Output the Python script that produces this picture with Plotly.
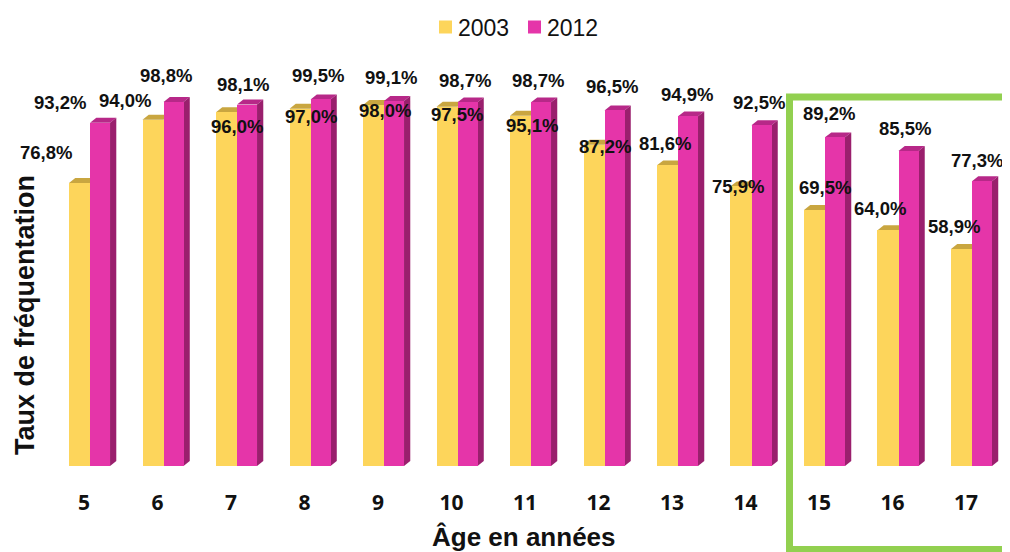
import plotly.graph_objects as go

ages = [5, 6, 7, 8, 9, 10, 11, 12, 13, 14, 15, 16, 17]
tick_labels = [str(a) for a in ages]
series_names = ["2003", "2012"]
v2003 = [76.8, 94.0, 96.0, 97.0, 98.0, 97.5, 95.1, 87.2, 81.6, 75.9, 69.5, 64.0, 58.9]
v2012 = [93.2, 98.8, 98.1, 99.5, 99.1, 98.7, 98.7, 96.5, 94.9, 92.5, 89.2, 85.5, 77.3]

# label pixel shifts (layout, not data)
lab03_dx = [-34, -28, 10, 11, 11, 10, 11, 11, -3, -3, 10, -8, -7]
lab03_dy = [31, 19, -14, -8, -6, -8, -10, -2, 22, 0, 22, 22, 23]
lab12_dx = [-40, -8, -4, -3, -3, -3, -3, -3, -1, -3, -6, -4, -5]
lab12_dy = [20, 27, 20, 24, 23, 22, 22, 24, 22, 23, 24, 23, 21]

YEL = "#FDD55B"
YEL_TOP = "#C9A640"
PINK = "#E535A9"
PINK_SIDE = "#9A1F6D"
PINK_TOP = "#B72888"
TXT = "#111111"

off03, w03 = -0.204, 0.286
off12, w12 = 0.082, 0.272
DX, DY = 0.085, 1.35

# plot area in page pixels: x 40..1010, y 60..466 (970 x 406)
def px(xp):
    return (xp - 40) / 970
def py(yp):
    return (466 - yp) / 406

fig = go.Figure()
fig.add_trace(go.Bar(x=ages, y=v2003, name=series_names[0], marker=dict(color=YEL, line=dict(width=0)),
                     offset=off03, width=w03))
fig.add_trace(go.Bar(x=ages, y=v2012, name=series_names[1], marker=dict(color=PINK, line=dict(width=0)),
                     offset=off12, width=w12))

shapes = []
def para(path, color):
    shapes.append(dict(type="path", path=path, xref="x", yref="y", fillcolor=color,
                       line=dict(width=0), layer="below"))

for a, y3, y12 in zip(ages, v2003, v2012):
    l3, r3 = a + off03, a + off03 + w03
    para(f"M {l3},{y3} L {r3},{y3} L {r3+DX},{y3+DY} L {l3+DX},{y3+DY} Z", YEL_TOP)
    l2, r2 = a + off12, a + off12 + w12
    para(f"M {l2},{y12} L {r2},{y12} L {r2+DX},{y12+DY} L {l2+DX},{y12+DY} Z", PINK_TOP)
    para(f"M {r2},0 L {r2+DX},{DY} L {r2+DX},{y12+DY} L {r2},{y12} Z", PINK_SIDE)

# green highlight box
shapes.append(dict(type="rect", xref="paper", yref="paper", x0=px(789.5), x1=1.02,
                   y0=py(549.5), y1=py(97),
                   line=dict(color="#92D050", width=7), fillcolor="rgba(0,0,0,0)", layer="above"))

annotations = []
def fmt(v):
    return "<b>" + f"{v:.1f}".replace(".", ",") + "%</b>"

LABFONT = dict(family="Liberation Sans, Arial", size=18.5, color=TXT)
for i, a in enumerate(ages):
    annotations.append(dict(x=a + off03 + w03 / 2, y=v2003[i], xref="x", yref="y", text=fmt(v2003[i]),
                            showarrow=False, xshift=lab03_dx[i], yshift=lab03_dy[i], font=LABFONT,
                            xanchor="center", yanchor="middle"))
    annotations.append(dict(x=a + off12 + w12 / 2, y=v2012[i], xref="x", yref="y", text=fmt(v2012[i]),
                            showarrow=False, xshift=lab12_dx[i], yshift=lab12_dy[i], font=LABFONT,
                            xanchor="center", yanchor="middle"))

# manual legend
for name, color, sx in [(series_names[0], YEL, 439), (series_names[1], PINK, 528)]:
    shapes.append(dict(type="rect", xref="paper", yref="paper", x0=px(sx), x1=px(sx + 13),
                       y0=py(33.5), y1=py(20.5), fillcolor=color, line=dict(width=0), layer="above"))
    annotations.append(dict(text=name, xref="paper", yref="paper", x=px(sx + 17), y=py(27.5),
                            xanchor="left", yanchor="middle", showarrow=False,
                            font=dict(family="Liberation Sans, Arial", size=23, color=TXT)))

# axis titles
annotations.append(dict(text="<b>Âge en années</b>", xref="paper", yref="paper",
                        x=px(524), y=py(537), xanchor="center", yanchor="middle",
                        showarrow=False, font=dict(family="Liberation Sans, Arial", size=26, color=TXT)))
annotations.append(dict(text="<b>Taux de fréquentation</b>", xref="paper", yref="paper",
                        x=px(25), y=py(315), xanchor="center", yanchor="middle",
                        textangle=-90, showarrow=False,
                        font=dict(family="Liberation Sans, Arial", size=27, color=TXT)))

# page body has an 8px margin: figure is 1002x544 placed at (8, 8)
fig.update_layout(
    width=1002, height=544,
    margin=dict(l=32, r=0, t=52, b=86, autoexpand=False),
    paper_bgcolor="white", plot_bgcolor="white",
    shapes=shapes, annotations=annotations,
    showlegend=False,
    xaxis=dict(range=[4.401, 17.599], tickmode="array", tickvals=ages, ticktext=tick_labels,
               showgrid=False, zeroline=False, showline=False, ticks="", automargin=False,
               tickfont=dict(family="Open Sans", size=21, color=TXT, weight="bold"),
               ticklabelstandoff=22),
    yaxis=dict(range=[0, 110.2], showgrid=False, zeroline=False, showticklabels=False, ticks="",
               automargin=False),
    bargap=0,
)
fig.write_html("out.html")
